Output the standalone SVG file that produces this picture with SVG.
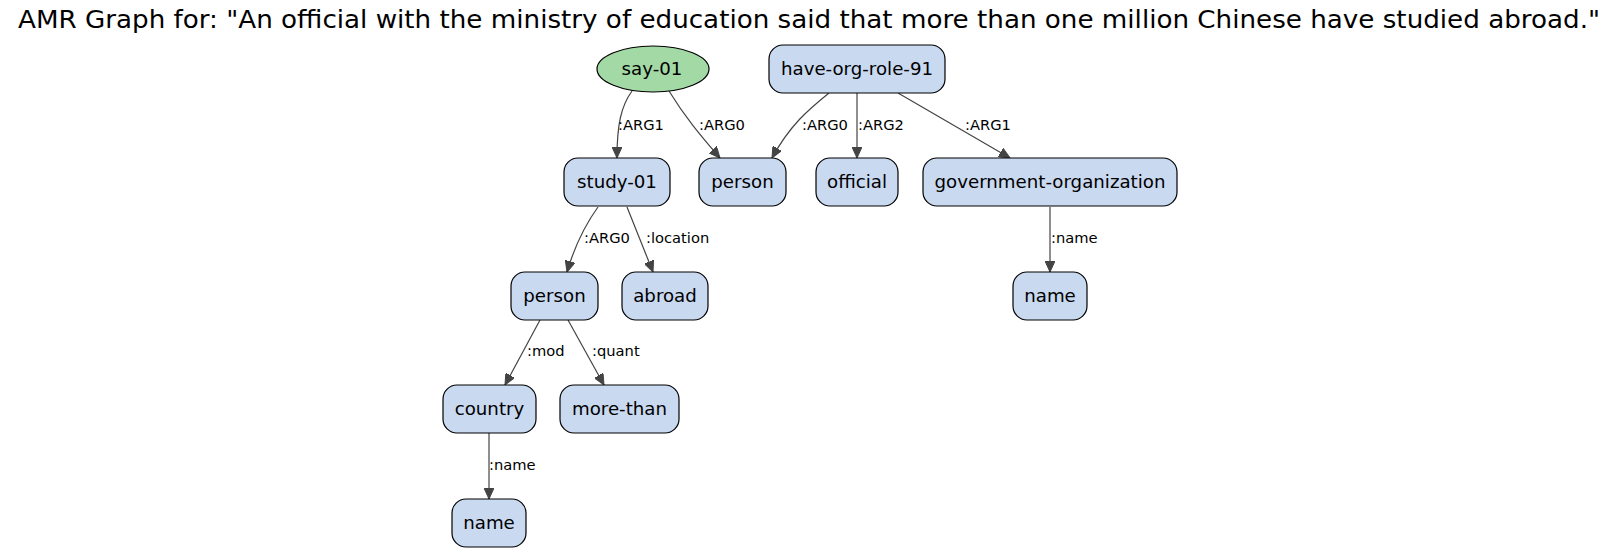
<svg xmlns="http://www.w3.org/2000/svg" width="1620" height="552" viewBox="0 0 1620 552">
<style>
.title{font-family:"DejaVu Sans",sans-serif;font-size:24.5px;fill:#000}
.node rect{fill:#c9d9f0;stroke:#000;stroke-width:1.2}
.node ellipse{fill:#a3d9a5;stroke:#000;stroke-width:1.2}
.node text{font-family:"DejaVu Sans",sans-serif;font-size:18.2px;fill:#000;text-anchor:middle}
.edges path{fill:none;stroke:#444;stroke-width:1.2}
.edges text{font-family:"DejaVu Sans",sans-serif;font-size:14.7px;fill:#000}
</style>
<defs>
<marker id="arr" markerUnits="userSpaceOnUse" markerWidth="12" markerHeight="10" refX="11" refY="5" orient="auto">
<path d="M0,0 L11,5 L0,10 z" fill="#444" stroke="#444" stroke-width="1"/>
</marker>
</defs>
<rect width="1620" height="552" fill="#fff"/>
<text class="title" x="18" y="28" textLength="1582" lengthAdjust="spacingAndGlyphs">AMR Graph for: "An official with the ministry of education said that more than one million Chinese have studied abroad."</text>
<g class="edges">
<path d="M632,91 C621,106 617,125 617,158" marker-end="url(#arr)"/>
<text x="618" y="130">:ARG1</text>
<path d="M669,91 C685,117 700,135 720,158" marker-end="url(#arr)"/>
<text x="699" y="130">:ARG0</text>
<path d="M829,93 C808,110 790,125 772,158" marker-end="url(#arr)"/>
<text x="802" y="130">:ARG0</text>
<path d="M857,93 L857,158" marker-end="url(#arr)"/>
<text x="858" y="130">:ARG2</text>
<path d="M898,93 L1010,158" marker-end="url(#arr)"/>
<text x="965" y="130">:ARG1</text>
<path d="M1050,207 L1050,272" marker-end="url(#arr)"/>
<text x="1051" y="243">:name</text>
<path d="M598,207 C585,225 575,245 567,272" marker-end="url(#arr)"/>
<text x="584" y="243">:ARG0</text>
<path d="M627,207 L653,272" marker-end="url(#arr)"/>
<text x="646" y="243">:location</text>
<path d="M540,320 L505,385" marker-end="url(#arr)"/>
<text x="527" y="356">:mod</text>
<path d="M568,320 L604,385" marker-end="url(#arr)"/>
<text x="592" y="356">:quant</text>
<path d="M489,433 L489,499" marker-end="url(#arr)"/>
<text x="489" y="470">:name</text>
</g>
<g id="n_say" class="node"><ellipse cx="653" cy="69" rx="56" ry="23"/><text x="652" y="75">say-01</text></g>
<g id="n_hor" class="node"><rect x="769" y="45" width="176" height="48" rx="14"/><text x="857" y="75">have-org-role-91</text></g>
<g id="n_study" class="node"><rect x="564" y="158" width="106" height="48" rx="14"/><text x="617" y="188">study-01</text></g>
<g id="n_person1" class="node"><rect x="699" y="158" width="87" height="48" rx="14"/><text x="742.5" y="188">person</text></g>
<g id="n_official" class="node"><rect x="816" y="158" width="82" height="48" rx="14"/><text x="857" y="188">official</text></g>
<g id="n_gov" class="node"><rect x="923" y="158" width="254" height="48" rx="14"/><text x="1050" y="188">government-organization</text></g>
<g id="n_name1" class="node"><rect x="1013" y="272" width="74" height="48" rx="14"/><text x="1050" y="302">name</text></g>
<g id="n_person2" class="node"><rect x="511" y="272" width="87" height="48" rx="14"/><text x="554.5" y="302">person</text></g>
<g id="n_abroad" class="node"><rect x="622" y="272" width="86" height="48" rx="14"/><text x="665" y="302">abroad</text></g>
<g id="n_country" class="node"><rect x="443" y="385" width="93" height="48" rx="14"/><text x="489.5" y="415">country</text></g>
<g id="n_more" class="node"><rect x="560" y="385" width="119" height="48" rx="14"/><text x="619.5" y="415">more-than</text></g>
<g id="n_name2" class="node"><rect x="452" y="499" width="74" height="48" rx="14"/><text x="489" y="529">name</text></g>
</svg>
